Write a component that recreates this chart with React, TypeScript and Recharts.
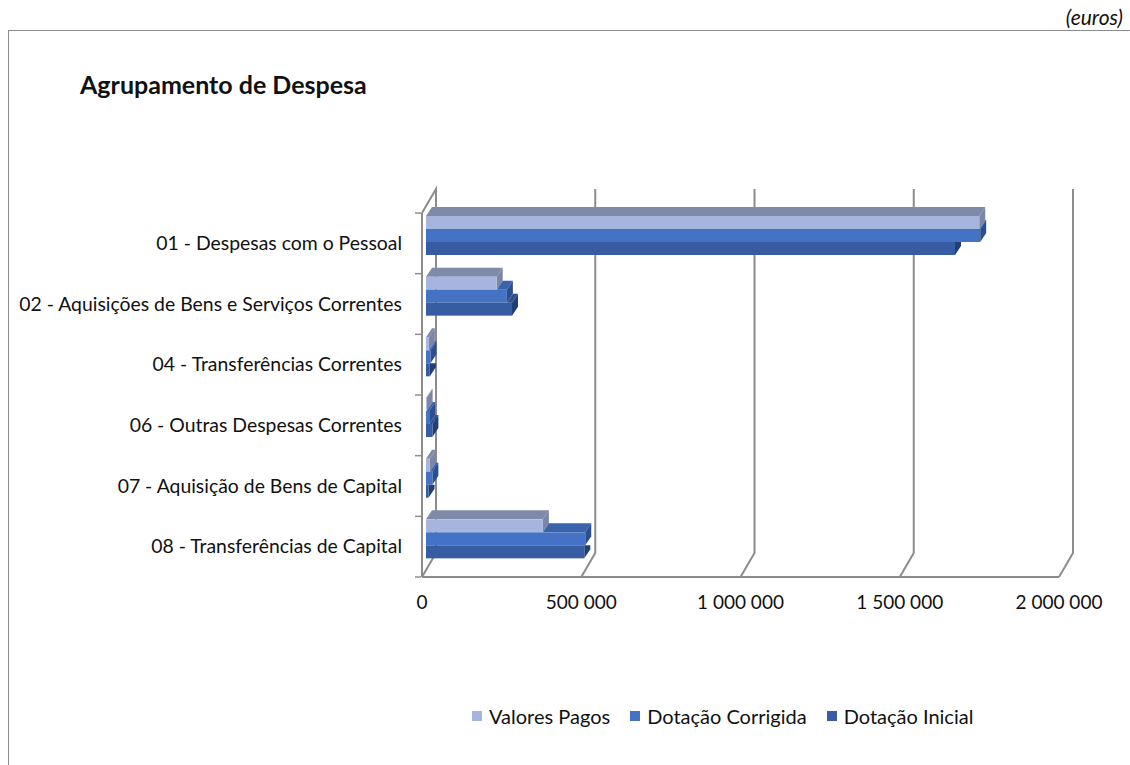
import { Bar, BarChart, CartesianGrid, Legend, XAxis, YAxis } from 'recharts'

const categories = [
  '01 - Despesas com o Pessoal',
  '02 - Aquisições de Bens e Serviços Correntes',
  '04 - Transferências Correntes',
  '06 - Outras Despesas Correntes',
  '07 - Aquisição de Bens de Capital',
  '08 - Transferências de Capital',
]
const valoresPagos = [1737000, 222000, 9000, 2000, 12000, 367000]
const dotacaoCorrigida = [1740000, 254000, 14000, 10000, 20000, 500000]
const dotacaoInicial = [1661000, 270000, 12000, 20000, 8000, 497000]
const xTicks = [0, 500000, 1000000, 1500000, 2000000]

const data = categories.map((name, i) => ({
  name,
  pagos: valoresPagos[i],
  corrigida: dotacaoCorrigida[i],
  inicial: dotacaoInicial[i],
}))

const series = [
  { key: 'pagos', name: 'Valores Pagos', front: '#a6b5de', top: '#7f89a8', side: '#7c86a6', above: null },
  { key: 'corrigida', name: 'Dotação Corrigida', front: '#4472c4', top: '#3a63ad', side: '#2c4e8e', above: 'pagos' },
  { key: 'inicial', name: 'Dotação Inicial', front: '#385ca3', top: '#30508f', side: '#223f75', above: 'corrigida' },
]

const FONT = 'Lato, "Open Sans", sans-serif'
const GRID = '#8c8c8c'
const DX = 6
const DY = 9
const SHIFT_X = 4
const SHIFT_Y = -8
const WALL_X = 14
const WALL_Y = 24
const HALF_BAND = 364 / 12

const fmt = (v: number) => String(v).replace(/\B(?=(\d{3})+(?!\d))/g, ' ')

function bar3d(key: string, aboveKey: string | null, front: string, top: string, side: string) {
  return (props: any) => {
    const { x, y, width, height, payload } = props
    const v = payload[key]
    if (!v || !(width > 0)) return <g />
    const perUnit = width / v
    const above = aboveKey ? payload[aboveKey] * perUnit : 0
    const x0 = x + SHIFT_X
    const y0 = y + SHIFT_Y
    const x1 = x0 + width
    const y1 = y0 + height
    const clipped = aboveKey != null && above > width
    const sidePts = clipped
      ? `${x1},${y0} ${x1 + DX},${y0} ${x1 + DX},${y1 - DY} ${x1},${y1}`
      : `${x1},${y0} ${x1 + DX},${y0 - DY} ${x1 + DX},${y1 - DY} ${x1},${y1}`
    const xa = x0 + above
    return (
      <g>
        {above < width && (
          <polygon points={`${xa},${y0} ${x1},${y0} ${x1 + DX},${y0 - DY} ${xa + DX},${y0 - DY}`} fill={top} />
        )}
        <polygon points={sidePts} fill={side} />
        <rect x={x0} y={y0} width={width} height={height} fill={front} />
      </g>
    )
  }
}

function GridLine(props: any) {
  const { x1, y1, y2, index } = props
  const yTop = Math.min(y1, y2)
  const yBot = Math.max(y1, y2)
  let d = `M${x1},${yBot} L${x1 + WALL_X},${yBot - WALL_Y} L${x1 + WALL_X},${yTop - WALL_Y}`
  if (index === 0) d += ` L${x1},${yTop}`
  return <path key={`g${index}`} d={d} stroke={GRID} strokeWidth={2} fill="none" />
}

function CategoryTick(props: any) {
  const { x, y, payload, index } = props
  const ax = x + 20
  return (
    <g>
      <line x1={ax - 7} x2={ax - 1} y1={y - HALF_BAND} y2={y - HALF_BAND} stroke={GRID} strokeWidth={1.5} />
      {index === categories.length - 1 && (
        <line x1={ax - 7} x2={ax - 1} y1={y + HALF_BAND} y2={y + HALF_BAND} stroke={GRID} strokeWidth={1.5} />
      )}
      <text x={x} y={y} dy="0.35em" textAnchor="end" fontSize={19.4} fill="#111" fontFamily={FONT}>
        {payload.value}
      </text>
    </g>
  )
}

function LegendContent() {
  return (
    <div style={{ display: 'flex', gap: 20, fontFamily: FONT, fontSize: 20, color: '#111', paddingLeft: 472 }}>
      {series.map((s) => (
        <span key={s.key} style={{ display: 'flex', alignItems: 'center' }}>
          <span style={{ width: 10, height: 10, background: s.front, marginRight: 7, display: 'inline-block' }} />
          {s.name}
        </span>
      ))}
    </div>
  )
}

export default function App() {
  return (
    <div style={{ position: 'absolute', left: 0, top: 0, width: 1130, height: 765, background: '#fff', overflow: 'hidden' }}>
      <div style={{ position: 'absolute', left: 8, top: 30, width: 1130, height: 740, borderTop: '1px solid #8c8c8c', borderLeft: '1px solid #8c8c8c' }} />
      <div style={{ position: 'absolute', right: 7, top: 4, fontFamily: FONT, fontStyle: 'italic', fontSize: 21, color: '#111' }}>(euros)</div>
      <div style={{ position: 'absolute', left: 80, top: 69, fontFamily: FONT, fontWeight: 'bold', fontSize: 25, color: '#111' }}>
        Agrupamento de Despesa
      </div>
      <div style={{ position: 'absolute', left: 0, top: 0 }}>
        <BarChart
          width={1130}
          height={765}
          data={data}
          layout="vertical"
          margin={{ top: 213, right: 71, bottom: 158, left: 0 }}
          barSize={13}
          barGap={0}
        >
          <CartesianGrid horizontal={false} vertical={GridLine} />
          <XAxis
            type="number"
            domain={[0, 2000000]}
            ticks={xTicks}
            tickFormatter={fmt}
            height={30}
            tickLine={false}
            tickSize={6}
            tickMargin={13}
            axisLine={{ stroke: GRID, strokeWidth: 2 }}
            tick={{ fontSize: 19, fill: '#111', fontFamily: FONT }}
          />
          <YAxis
            type="category"
            dataKey="name"
            width={422}
            tickLine={false}
            tickSize={6}
            tickMargin={14}
            axisLine={{ stroke: GRID, strokeWidth: 2 }}
            tick={CategoryTick}
            interval={0}
          />
          {series.map((s) => (
            <Bar
              key={s.key}
              dataKey={s.key}
              name={s.name}
              fill={s.front}
              isAnimationActive={false}
              shape={bar3d(s.key, s.above, s.front, s.top, s.side)}
            />
          ))}
          <Legend
            layout="horizontal"
            verticalAlign="middle"
            align="center"
            content={LegendContent}
            wrapperStyle={{ top: 704, left: 0, width: 1130 }}
          />
        </BarChart>
      </div>
    </div>
  )
}
